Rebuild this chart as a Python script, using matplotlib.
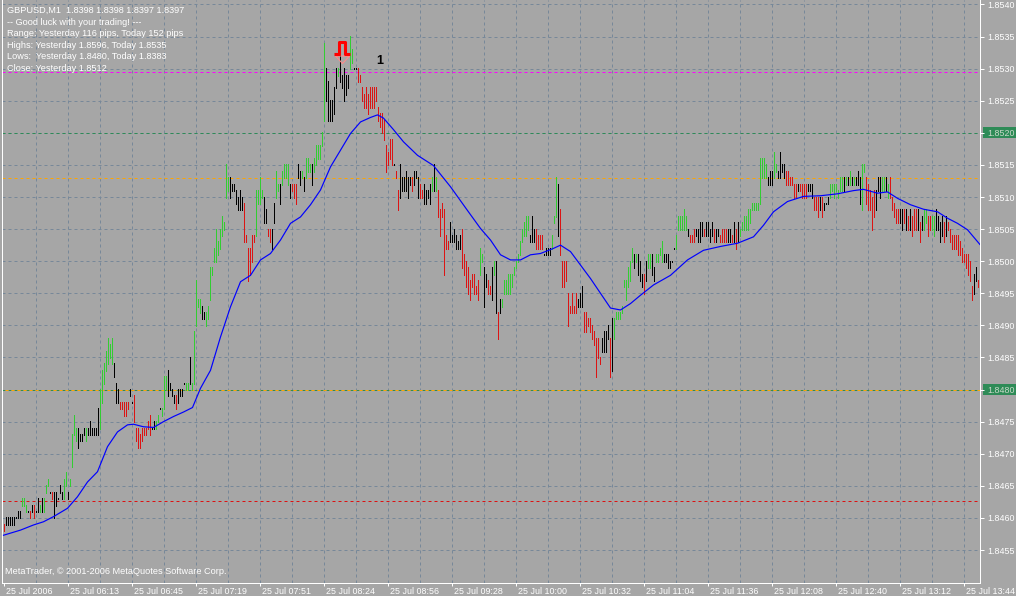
import numpy as np
import matplotlib
matplotlib.use('Agg')
from matplotlib import pyplot as plt
from matplotlib.path import Path
from matplotlib.markers import MarkerStyle
from matplotlib.patches import Rectangle
from matplotlib.transforms import blended_transform_factory, ScaledTranslation

plt.rcParams['font.family'] = ['Liberation Sans', 'DejaVu Sans']

# prices are kept as pips above BASE
BASE = 1.8400
PIP = 0.0001

# g - up bar (green), r - down bar (red), k - black bar
bar_colors = (
    "rkkkkkkkkg" "ggkrkrkkgk" "gggkrkkkkk" "ggkggggkkk" "kgkkkkkkgg"
    "gggggkkkrr" "rrrkkrrrrr" "rrrrkkggkg" "ggkkkkrkkk" "kggkgggggk"
    "kggggggggg" "gggkkkkkkk" "rrrrrrgggg" "kkrrkkggkg" "gggkrrrkkg"
    "kgggkggggg" "gkkkkkkgkk" "kkkggkkrrr" "rrrrrrrrrr" "rrrrrkrrkk"
    "kkkkrkkkrr" "kkkkgkgrrr" "rrrkkkkkkr" "rrrrrrrrgg" "kkrrkgkrkg"
    "gggggggggg" "gggkkkrrrr" "kkkkgggkrr" "rrrrrrrkkk" "rrrrrrrrrk"
    "kkkrkggggg" "gggggkgkkk" "rkggkkgggg" "kkkkkkgggg" "ggkrrrkkkk"
    "rkkkkrkkrr" "rrkkrkrkgg" "gggggggggg" "ggkkkggkkk" "krrrrrrkrr"
    "rrkkkrrrkr" "kkkggggggg" "kgkgkgkkkg" "grrrrrkkkg" "gkgrrrrrkk"
    "rkrkrrrkrk" "ggrrggkkkk" "rkrrrrrrrr" "rrrrrkkrk"
)

highs = [
    59, 60, 60, 60, 60, 60, 60, 61, 61, 63,
    63, 62, 61, 61, 62, 62, 61, 63, 62, 63,
    63, 65, 66, 64, 64, 64, 64, 63, 65, 64,
    66, 67, 64, 66, 73, 76, 74, 74, 73, 73,
    74, 74, 74, 75, 74, 74, 74, 77, 80, 83,
    84, 86, 88, 87, 88, 84, 81, 80, 78, 78,
    78, 78, 78, 80, 78, 79, 74, 74, 73, 74,
    74, 74, 75, 76, 74, 75, 75, 76, 77, 77,
    82, 82, 83, 81, 80, 79, 79, 80, 80, 80,
    81, 81, 81, 85, 81, 89, 97, 94, 94, 93,
    92, 92, 93, 99, 99, 102, 105, 103, 105, 107,
    106, 115, 113, 113, 112, 112, 111, 110, 111, 110,
    109, 104, 102, 102, 104, 104, 111, 111, 113, 111,
    110, 108, 105, 105, 105, 109, 114, 112, 112, 114,
    115, 115, 115, 112, 112, 112, 112, 115, 114, 114,
    113, 116, 116, 115, 115, 116, 118, 118, 118, 120,
    134, 130, 128, 125, 125, 127, 130, 130, 133, 129,
    130, 129, 129, 135, 133, 130, 130, 130, 129, 127,
    126, 127, 126, 127, 127, 127, 127, 124, 123, 123,
    122, 118, 117, 119, 119, 115, 114, 111, 115, 113,
    113, 114, 113, 113, 113, 114, 114, 113, 112, 111,
    112, 111, 111, 112, 113, 115, 113, 111, 108, 109,
    108, 104, 103, 106, 104, 105, 104, 103, 104, 105,
    101, 100, 99, 97, 98, 98, 96, 97, 102, 101,
    99, 98, 97, 96, 99, 100, 100, 92, 94, 94,
    97, 97, 98, 98, 98, 99, 100, 101, 103, 105,
    106, 107, 107, 104, 107, 105, 105, 104, 104, 104,
    101, 102, 102, 102, 104, 107, 113, 112, 108, 100,
    100, 100, 95, 93, 95, 93, 95, 94, 95, 96,
    92, 92, 91, 91, 90, 89, 88, 88, 85, 88,
    89, 89, 90, 88, 91, 91, 92, 92, 92, 93,
    97, 97, 99, 100, 102, 101, 101, 101, 100, 98,
    98, 100, 101, 101, 101, 99, 101, 101, 102, 103,
    101, 101, 101, 100, 100, 102, 104, 107, 107, 107,
    108, 107, 105, 104, 104, 105, 105, 105, 106, 106,
    105, 106, 106, 105, 106, 105, 105, 105, 104, 105,
    105, 105, 105, 105, 104, 106, 105, 106, 105, 106,
    107, 107, 108, 108, 109, 109, 109, 109, 116, 116,
    116, 115, 113, 114, 114, 117, 115, 114, 117, 115,
    115, 114, 114, 113, 113, 112, 112, 112, 112, 112,
    112, 112, 112, 112, 112, 110, 110, 110, 110, 110,
    109, 109, 110, 112, 112, 112, 112, 111, 113, 113,
    113, 113, 113, 114, 113, 113, 113, 114, 113, 115,
    115, 113, 112, 111, 110, 111, 111, 113, 113, 113,
    113, 113, 112, 113, 110, 109, 108, 108, 108, 108,
    108, 108, 107, 108, 107, 108, 108, 108, 106, 107,
    108, 108, 107, 107, 107, 107, 108, 107, 106, 107,
    106, 107, 106, 105, 104, 104, 104, 104, 103, 102,
    101, 101, 101, 100, 96, 98, 99, 97, 99,
]

lows = [
    58, 59, 59, 59, 59, 59, 60, 60, 60, 62,
    62, 61, 61, 60, 61, 60, 61, 61, 61, 61,
    61, 64, 65, 64, 63, 60, 62, 63, 64, 63,
    63, 65, 63, 65, 68, 73, 72, 71, 72, 72,
    73, 72, 73, 73, 73, 73, 73, 73, 74, 78,
    81, 83, 84, 85, 84, 82, 78, 78, 77, 77,
    76, 76, 77, 79, 78, 75, 72, 71, 71, 72,
    73, 73, 74, 73, 74, 74, 74, 75, 77, 76,
    77, 80, 79, 80, 79, 78, 77, 78, 79, 79,
    81, 80, 80, 81, 80, 81, 90, 93, 92, 91,
    91, 90, 91, 94, 98, 100, 100, 101, 102, 104,
    105, 110, 111, 110, 111, 111, 109, 108, 108, 108,
    103, 103, 97, 98, 100, 103, 104, 109, 109, 110,
    106, 106, 104, 103, 102, 106, 110, 111, 109, 112,
    113, 113, 112, 110, 111, 110, 109, 113, 112, 113,
    111, 113, 114, 114, 112, 114, 115, 116, 116, 118,
    122, 125, 122, 122, 122, 123, 127, 129, 128, 127,
    125, 126, 127, 130, 131, 130, 130, 128, 128, 125,
    124, 124, 123, 124, 124, 124, 125, 122, 121, 120,
    119, 114, 115, 116, 115, 115, 113, 108, 110, 111,
    111, 111, 110, 112, 111, 112, 113, 110, 110, 110,
    109, 109, 110, 109, 111, 111, 111, 107, 104, 107,
    98, 102, 102, 103, 103, 103, 102, 102, 102, 99,
    98, 96, 95, 94, 96, 95, 95, 94, 98, 100,
    93, 96, 95, 95, 94, 98, 92, 88, 92, 93,
    95, 95, 95, 95, 96, 98, 99, 100, 101, 103,
    104, 104, 105, 103, 103, 103, 102, 102, 102, 102,
    101, 101, 101, 101, 102, 106, 107, 104, 101, 96,
    96, 97, 90, 92, 92, 92, 92, 93, 93, 93,
    89, 89, 90, 89, 88, 87, 82, 85, 84, 86,
    86, 86, 88, 82, 83, 88, 91, 91, 91, 92,
    96, 94, 96, 97, 100, 99, 100, 98, 97, 96,
    95, 97, 99, 99, 98, 97, 100, 100, 101, 100,
    100, 100, 99, 99, 100, 102, 102, 105, 105, 105,
    105, 105, 104, 103, 103, 103, 104, 103, 103, 104,
    104, 104, 104, 103, 104, 103, 103, 104, 103, 103,
    103, 103, 103, 103, 103, 103, 102, 103, 104, 105,
    105, 105, 105, 106, 108, 108, 108, 108, 109, 113,
    113, 113, 112, 112, 112, 113, 114, 113, 113, 114,
    113, 112, 112, 112, 112, 110, 110, 111, 111, 110,
    110, 110, 111, 111, 110, 108, 108, 107, 108, 107,
    108, 109, 109, 110, 111, 110, 111, 110, 111, 111,
    111, 112, 112, 112, 112, 112, 112, 112, 109, 108,
    114, 109, 108, 108, 105, 107, 108, 111, 110, 111,
    111, 111, 110, 110, 108, 107, 106, 106, 106, 105,
    106, 105, 105, 105, 104, 105, 105, 105, 103, 105,
    105, 106, 104, 105, 105, 104, 105, 105, 103, 104,
    103, 104, 105, 103, 102, 102, 102, 101, 101, 100,
    100, 99, 98, 97, 94, 95, 97, 96, 96,
]

# moving average at these bar numbers
ma_bars = [0, 8.5, 15, 20, 25, 32, 37, 42, 47, 52, 57, 62, 65, 70, 75, 80, 85,
           90, 94.5, 98.5, 103.5, 108.5, 113.5, 118.5, 123.5, 128.5, 133.5,
           138.5, 143.5, 148.5, 153.5, 158.5, 163.5, 168.5, 173.5, 178.5,
           183.5, 187, 190, 195, 200, 207, 215, 223.5, 232, 238.5, 243.5,
           248.5, 253.5, 258.5, 263.5, 268.5, 275, 278.5, 283.5, 288.5, 293.5,
           298.5, 303.5, 308.5, 313.5, 318.5, 325, 333.5, 342, 350, 358.5, 367,
           375, 380, 385, 392, 400, 408.5, 417, 425, 430, 437, 442, 447, 453.5,
           460, 467, 472, 477, 482, 488.5]
ma_pips = [57.3, 58.1, 58.9, 59.4, 60.2, 61.5, 63.3, 65.6, 67.2, 71.1, 73.4,
           74.5, 74.6, 74.2, 74.1, 75.0, 75.8, 76.5, 77.2, 80.2, 83.0, 88.2,
           92.9, 96.8, 97.8, 100.2, 101.2, 103.3, 105.9, 106.9, 108.8, 111.1,
           114.7, 117.3, 119.9, 121.7, 122.4, 122.8, 122.3, 120.5, 118.6,
           116.5, 114.9, 111.6, 107.9, 105.1, 103.3, 101.0, 100.2, 100.2,
           101.0, 101.2, 102.0, 102.5, 101.5, 99.4, 97.3, 95.0, 92.7, 92.4,
           93.4, 94.7, 96.3, 97.8, 100.2, 101.7, 102.3, 102.8, 103.8, 105.6,
           107.7, 109.3, 110.1, 110.2, 110.5, 111.0, 111.2, 110.6, 110.8,
           109.8, 108.8, 108.1, 107.7, 106.7, 105.9, 104.9, 102.5]

time_labels = ["25 Jul 2006", "25 Jul 06:13", "25 Jul 06:45", "25 Jul 07:19",
               "25 Jul 07:51", "25 Jul 08:24", "25 Jul 08:56", "25 Jul 09:28",
               "25 Jul 10:00", "25 Jul 10:32", "25 Jul 11:04", "25 Jul 11:36",
               "25 Jul 12:08", "25 Jul 12:40", "25 Jul 13:12", "25 Jul 13:44"]

level_prices = [1.85295, 1.8520, 1.8513, 1.8480, 1.8480, 1.84626]
level_colors = ['#ff00ff', '#2e8b57', '#ffa500', '#2e8b57', '#ffa500', '#dd1111']
boxed_prices = [1.8520, 1.8480]

info_lines = ["GBPUSD,M1  1.8398 1.8398 1.8397 1.8397",
              "-- Good luck with your trading! ---",
              "Range: Yesterday 116 pips, Today 152 pips",
              "Highs: Yesterday 1.8596, Today 1.8535",
              "Lows:  Yesterday 1.8480, Today 1.8383",
              "Close: Yesterday 1.8512"]

arrow_bar, arrow_price = 169.35, 1.85332
label_bar, label_price = 188, 1.85312

# layout
W, H = 1016, 596
BG = '#a6a6a6'
GRID = '#778899'
PX = 72 / 100          # one pixel in points
PX_PER_PIP = 6.418

fig = plt.figure(figsize=(W / 100, H / 100), dpi=100, facecolor=BG)
ax = fig.add_axes([2 / W, 13 / H, 978 / W, 583 / H], facecolor=BG)

n = len(highs)
xs = np.arange(n)
ax.set_xlim(-0.75, n - 0.75)
ax.set_ylim(1.8455 - 33 / PX_PER_PIP * PIP, 1.8540 + 4.5 / PX_PER_PIP * PIP)

dash = (0, (3, 3))
price_ticks = np.round(np.arange(1.8455, 1.85401, 0.0005), 4)
for p in price_ticks:
    ax.axhline(p, color=GRID, lw=PX, ls=dash, zorder=1)
for i in range(16, n, 16):
    ax.axvline(i, color=GRID, lw=PX, ls=dash, zorder=1)

# the 1.8480 level has two lines on top of each other, so shift one dash phase
seen = set()
for p, c in zip(level_prices, level_colors):
    ax.axhline(p, color=c, lw=PX, ls=(3 if p in seen else 0, (3, 3)), zorder=2)
    seen.add(p)

# bars
cmap = {'g': '#32cd32', 'r': '#dc1414', 'k': '#000000'}
cols = [cmap[c] for c in bar_colors]
hi = BASE + np.array(highs) * PIP
lo = BASE + np.array(lows) * PIP
pad = 0.5 / PX_PER_PIP * PIP
ax.vlines(xs, lo - pad, hi + pad, colors=cols, lw=PX, antialiased=False, zorder=3)

ax.plot(ma_bars, BASE + np.array(ma_pips) * PIP, color='#0000ff', lw=0.85, zorder=4)

# sell signal sign and its number
def px_marker(verts, codes=None):
    v = np.array(verts, float)
    size = 2 * np.abs(v).max() * PX
    return MarkerStyle(Path(v, codes), joinstyle='miter'), size

hat, hat_size = px_marker([(-8.4, -6.3), (-3.4, -6.3), (-3.4, 6.3), (3.3, 6.3),
                           (3.3, -6.3), (8.3, -6.3)])
tri, tri_size = px_marker([(-7, -7.5), (7, -7.5), (0, -15), (-7, -7.5)])
ax.plot([arrow_bar], [arrow_price], marker=tri, ms=tri_size, mfc='none',
        mec='#ff8a8a', mew=0.8, ls='none', zorder=5)
ax.plot([arrow_bar], [arrow_price], marker=hat, ms=hat_size, mfc='none',
        mec='#ff0000', mew=2.2, ls='none', zorder=6)
ax.text(label_bar, label_price, '1', color='black', fontsize=9,
        fontweight='bold', ha='center', va='center', zorder=6)

# axes frame and ticks
for side in ['left', 'right', 'bottom']:
    ax.spines[side].set_color('white')
    ax.spines[side].set_linewidth(PX)
ax.spines['top'].set_visible(False)

ax.yaxis.tick_right()
ax.set_yticks(price_ticks)
ax.set_yticklabels(['%.4f' % p for p in price_ticks])
ax.tick_params(axis='y', colors='white', length=3, width=PX, pad=2.5,
               labelsize=6.4)
ax.set_xticks(np.arange(len(time_labels)) * 32)
ax.set_xticklabels(time_labels, ha='left')
ax.tick_params(axis='x', colors='white', length=2.5, width=PX, pad=0.2,
               labelsize=6.4)
shift = ScaledTranslation(2 / 100, 0, fig.dpi_scale_trans)
for lbl in ax.get_xticklabels():
    lbl.set_transform(lbl.get_transform() + shift)

trans = blended_transform_factory(ax.transAxes, ax.transData)
for p in boxed_prices:
    h = 11 / PX_PER_PIP * PIP
    ax.add_patch(Rectangle((1 + 3 / 978, p - h / 2), 36 / 978, h, transform=trans,
                           clip_on=False, facecolor='#2e8b57', edgecolor='none',
                           zorder=1))
for lbl in ax.get_yticklabels():
    if lbl.get_text() in ['%.4f' % p for p in boxed_prices]:
        lbl.set_color('#c8d8c8')

for k, line in enumerate(info_lines):
    fig.text(7 / W, 1 - (10.5 + 11.6 * k) / H, line, color='white',
             fontsize=6.6, ha='left', va='center')
fig.text(5 / W, 1 - 571 / H, "MetaTrader, \u00a9 2001-2006 MetaQuotes Software Corp.",
         color='white', fontsize=6.6, ha='left', va='center')

fig.savefig('out.png', dpi=100, facecolor=BG)
